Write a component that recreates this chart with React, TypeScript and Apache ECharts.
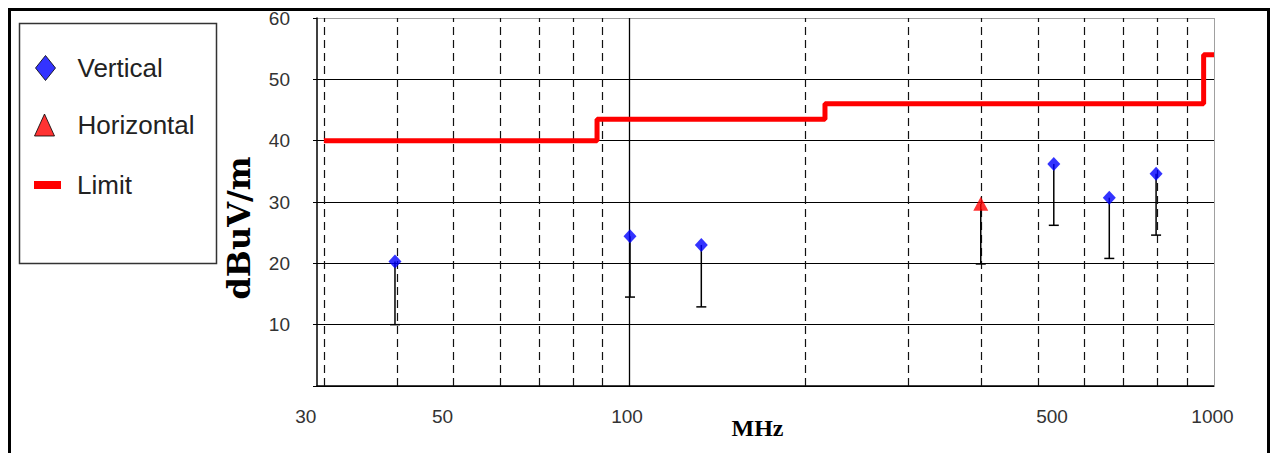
import { useEffect, useRef } from 'react';
import * as echarts from 'echarts';

// ---- data ----
const verticalFreq = [39.7, 100.2, 132.7, 532, 662, 796];
const verticalLevel = [20.3, 24.4, 23.0, 36.2, 30.7, 34.6];
const verticalLow = [10.0, 14.5, 12.9, 26.2, 20.8, 24.6];

const horizontalFreq = [399];
const horizontalLevel = [29.7];
const horizontalLow = [19.9];

const limitFreq = [30, 88, 216, 960, 1000];
const limitLevel = [40, 43.5, 46, 54, 54];

const dashedGridFreqs = [30, 40, 50, 60, 70, 80, 90, 200, 300, 400, 500, 600, 700, 800, 900];
const solidGridFreqs = [100];
const edgeGridFreqs = [1000];
const xTickLabels = [30, 50, 100, 500, 1000];

// label horizontal shift in the reference (style only)
const labelShift: Record<number, number> = { 30: -18, 50: -11, 100: -2.5, 500: 14, 1000: -1.5 };

function tickLabel(f: number) {
  if (!xTickLabels.includes(f)) return { show: false };
  const s = labelShift[f] || 0;
  const pad = s >= 0 ? [0, 0, 0, 2 * s] : [0, -2 * s, 0, 0];
  return {
    show: true,
    position: 'start',
    distance: 21,
    formatter: String(f),
    fontSize: 19,
    color: '#333',
    fontFamily: 'Liberation Sans',
    padding: pad,
  };
}

export default function App() {
  const ref = useRef<HTMLDivElement>(null);

  useEffect(() => {
    if (!ref.current) return;
    const chart = echarts.init(ref.current, undefined, { renderer: 'svg' });

    const gridLineData: any[] = [
      ...dashedGridFreqs.map((f) => ({
        xAxis: f,
        lineStyle: { type: [8, 5], color: '#111', width: 1.2 },
        label: tickLabel(f),
      })),
      ...solidGridFreqs.map((f) => ({
        xAxis: f,
        lineStyle: { type: 'solid', color: '#000', width: 1.3 },
        label: tickLabel(f),
      })),
      ...edgeGridFreqs.map((f) => ({
        xAxis: f,
        lineStyle: { type: 'solid', color: '#a0a0a0', width: 1 },
        label: tickLabel(f),
      })),
    ];

    const errorData = [
      ...verticalFreq.map((f, i) => [f, verticalLow[i], verticalLevel[i]]),
      ...horizontalFreq.map((f, i) => [f, horizontalLow[i], horizontalLevel[i]]),
    ];

    const option: any = {
      animation: false,
      backgroundColor: '#fff',
      textStyle: { fontFamily: 'Liberation Sans' },
      grid: { left: 317, right: 63, top: 18, bottom: 67, containLabel: false },
      xAxis: {
        type: 'log',
        logBase: 10,
        min: 29.2,
        max: 1000,
        name: 'MHz',
        nameLocation: 'middle',
        nameGap: 30,
        nameTextStyle: {
          fontFamily: 'Liberation Serif',
          fontWeight: 'bold',
          fontSize: 24,
          color: '#000',
          padding: [0, 16, 0, 0],
        },
        axisLine: { show: true, onZero: false, lineStyle: { color: '#000', width: 1.5 } },
        axisTick: { show: false },
        axisLabel: { show: false },
        splitLine: { show: false },
        minorSplitLine: { show: false },
      },
      yAxis: {
        type: 'value',
        min: 0,
        max: 60,
        interval: 10,
        name: 'dBuV/m',
        nameLocation: 'middle',
        nameGap: 62,
        nameTextStyle: {
          fontFamily: 'DejaVu Serif',
          fontWeight: 'bold',
          fontSize: 32,
          color: '#000',
          padding: [0, 52, 0, 0],
        },
        axisLine: { show: true, onZero: false, lineStyle: { color: '#000', width: 1.5 } },
        axisTick: { show: true, length: 4, lineStyle: { color: '#000', width: 1 } },
        axisLabel: {
          fontSize: 19,
          color: '#333',
          margin: 27,
          fontFamily: 'Liberation Sans',
          formatter: (v: number) => (v === 0 ? '' : String(v)),
        },
        splitLine: {
          show: true,
          lineStyle: {
            color: ['#000', '#000', '#000', '#000', '#000', '#000', '#a0a0a0'],
            width: 1.2,
          },
        },
      },
      legend: [
        {
          data: [{ name: 'Vertical', icon: 'diamond' }],
          left: 35,
          top: 55,
          padding: 0,
          itemWidth: 20,
          itemHeight: 25,
          selectedMode: false,
          itemStyle: { borderColor: '#000', borderWidth: 1 },
          textStyle: { fontSize: 26, color: '#222', fontFamily: 'Liberation Sans', padding: [0, 0, 0, 17] },
        },
        {
          data: [{ name: 'Horizontal', icon: 'triangle' }],
          left: 34,
          top: 112,
          padding: 0,
          itemWidth: 20,
          itemHeight: 22,
          selectedMode: false,
          itemStyle: { borderColor: '#000', borderWidth: 1 },
          textStyle: { fontSize: 26, color: '#222', fontFamily: 'Liberation Sans', padding: [0, 0, 0, 18] },
        },
        {
          data: [{ name: 'Limit', icon: 'rect' }],
          left: 34,
          top: 172,
          padding: 0,
          itemWidth: 27,
          itemHeight: 8,
          selectedMode: false,
          itemStyle: { borderWidth: 0 },
          textStyle: { fontSize: 26, color: '#222', fontFamily: 'Liberation Sans', padding: [0, 0, 0, 11] },
        },
      ],
      graphic: [
        {
          type: 'rect',
          silent: true,
          z: 10,
          shape: { x: 9.5, y: 9.5, width: 1259, height: 480 },
          style: { fill: 'none', stroke: '#000', lineWidth: 3 },
        },
        {
          type: 'rect',
          silent: true,
          z: 10,
          shape: { x: 19.5, y: 23.5, width: 197, height: 240 },
          style: { fill: 'none', stroke: '#333', lineWidth: 1.5 },
        },
      ],
      series: [
        {
          name: 'grid',
          type: 'line',
          data: [],
          silent: true,
          z: 1,
          markLine: {
            silent: true,
            z: 1,
            symbol: ['none', 'none'],
            animation: false,
            emphasis: { disabled: true },
            data: gridLineData,
          },
        },
        {
          name: 'Limit',
          type: 'line',
          step: 'end',
          showSymbol: false,
          symbol: 'none',
          z: 3,
          color: '#ff0000',
          itemStyle: { color: '#ff0000' },
          lineStyle: { color: '#ff0000', width: 5 },
          data: limitFreq.map((f, i) => [f, limitLevel[i]]),
        },
        {
          name: 'errorbars',
          type: 'custom',
          z: 4,
          silent: true,
          encode: { x: 0, y: [1, 2] },
          data: errorData,
          renderItem: (params: any, api: any) => {
            const x = api.value(0);
            const low = api.value(1);
            const high = api.value(2);
            const top = api.coord([x, high]);
            const bot = api.coord([x, low]);
            return {
              type: 'group',
              children: [
                {
                  type: 'line',
                  shape: { x1: top[0], y1: top[1], x2: bot[0], y2: bot[1] },
                  style: { stroke: '#000', lineWidth: 1.5 },
                },
                {
                  type: 'line',
                  shape: { x1: bot[0] - 5, y1: bot[1], x2: bot[0] + 5, y2: bot[1] },
                  style: { stroke: '#000', lineWidth: 1.5 },
                },
              ],
            };
          },
        },
        {
          name: 'Vertical',
          type: 'scatter',
          z: 5,
          symbol: 'diamond',
          symbolSize: [13, 14],
          itemStyle: { color: '#0000ff' },
          data: verticalFreq.map((f, i) => [f, verticalLevel[i]]),
        },
        {
          name: 'Horizontal',
          type: 'scatter',
          z: 5,
          symbol: 'triangle',
          symbolSize: [15, 14],
          itemStyle: { color: '#ff0000' },
          data: horizontalFreq.map((f, i) => [f, horizontalLevel[i]]),
        },
      ],
    };

    chart.setOption(option);
    return () => chart.dispose();
  }, []);

  return (
    <div
      ref={ref}
      style={{ position: 'fixed', left: 0, top: 0, width: 1277, height: 453, background: '#fff' }}
    />
  );
}
